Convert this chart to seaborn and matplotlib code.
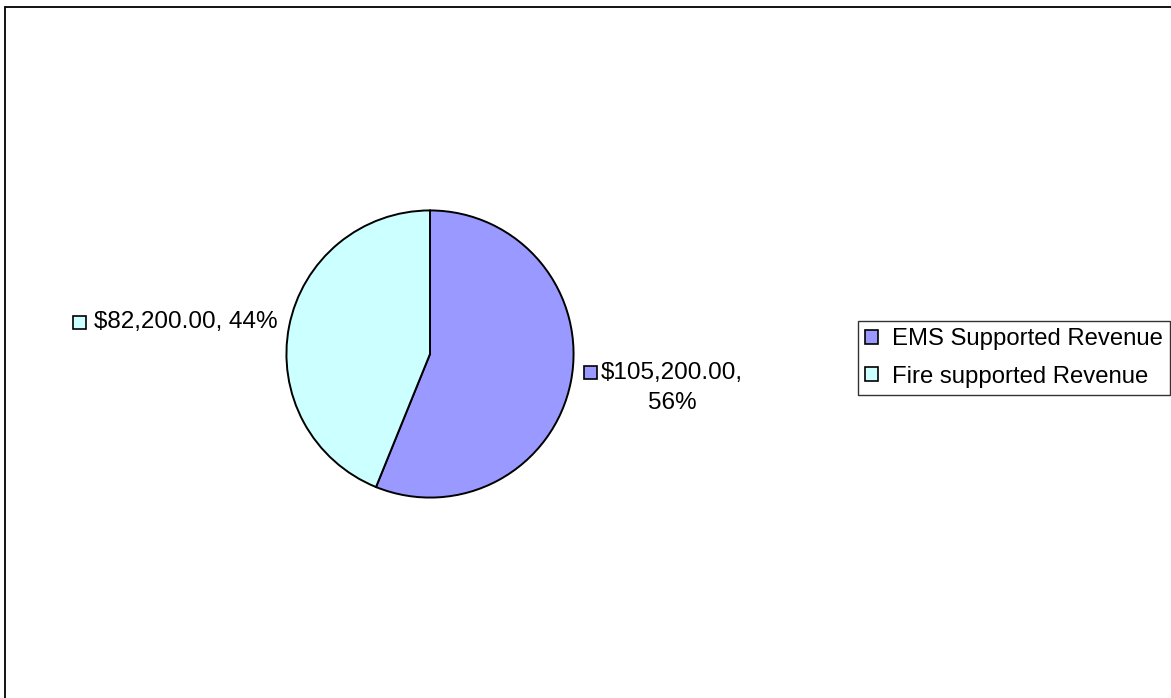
import matplotlib
matplotlib.use("Agg")
import matplotlib.pyplot as plt
import seaborn as sns
from matplotlib.patches import Rectangle, Patch

categories = ["EMS Supported Revenue", "Fire supported Revenue"]
values = [105200.00, 82200.00]
colors = ["#9999FF", "#CCFFFF"]

sns.set_theme(style="white")
plt.rcParams['font.family'] = ['Liberation Sans', 'DejaVu Sans']
plt.rcParams['text.color'] = 'black'

W, H = 1171, 698
fig = plt.figure(figsize=(W / 100, H / 100), dpi=100)
fig.patch.set_facecolor("white")

def fx(x):
    return x / W

def fy(y):
    return 1 - y / H

# outer frame (extends beyond right/bottom edges)
fig.add_artist(Rectangle((fx(5.5), fy(710)), fx(1200) - fx(5.5), fy(6.5) - fy(710),
                         transform=fig.transFigure, fill=False, edgecolor="black", lw=1.3))

cx, cy, r = 430, 354, 145
ax = fig.add_axes([fx(cx - r), fy(cy + r), (2 * r) / W, (2 * r) / H])
ax.pie(values, colors=colors, startangle=90, counterclock=False,
       wedgeprops=dict(edgecolor="black", linewidth=1.4))
ax.set_xlim(-1.01, 1.01)
ax.set_ylim(-1.01, 1.01)
ax.set_aspect("equal")
ax.axis("off")

total = sum(values)
pcts = [round(v / total * 100) for v in values]

def square(x, y, color):
    s = 13
    fig.add_artist(Rectangle((fx(x), fy(y + s / 2)), s / W, s / H, transform=fig.transFigure,
                             facecolor=color, edgecolor="black", lw=1.2))

fs = 17.5
# Fire label (left)
square(72.5, 322.5, colors[1])
fig.text(fx(94), fy(322), f"${values[1]:,.2f}, {pcts[1]}%", fontsize=fs, va="center", ha="left")
# EMS label (right)
square(583.5, 372.5, colors[0])
fig.text(fx(672), fy(388), f"${values[0]:,.2f},\n{pcts[0]}%", fontsize=fs, va="center",
         ha="center", multialignment="center", linespacing=1.48)

handles = [Patch(facecolor=c, edgecolor="black", lw=1.2) for c in colors]
leg = fig.legend(handles, categories, loc="center left", bbox_to_anchor=(fx(858), fy(358)),
                 fontsize=17.2, frameon=True, fancybox=False, edgecolor="black",
                 handlelength=0.52, handleheight=0.52, handletextpad=0.6,
                 borderpad=0.3, labelspacing=0.66, borderaxespad=0)
leg.get_frame().set_linewidth(1.0)

fig.savefig("out.png", dpi=100, facecolor="white")
